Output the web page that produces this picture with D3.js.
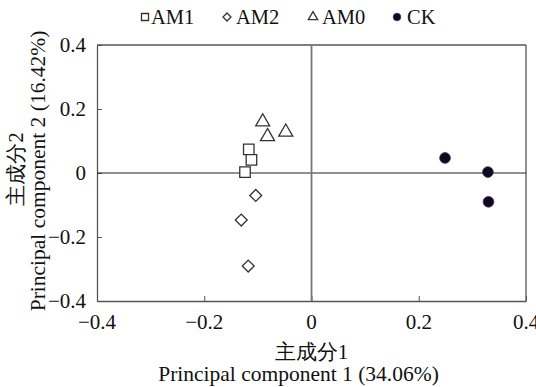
<!DOCTYPE html>
<html><head><meta charset="utf-8">
<script src="https://cdn.jsdelivr.net/npm/d3@7"></script>
<style>body{margin:0;background:#fff}svg{display:block}
text{font-family:'Liberation Serif','Times New Roman',serif;fill:#111}</style>
</head><body>
<svg id="c" width="536" height="387"></svg>
<script>
const xTicks = [-0.4, -0.2, 0, 0.2, 0.4];
const yTicks = [-0.4, -0.2, 0, 0.2, 0.4];
const am1 = [[-0.117, 0.074], [-0.112, 0.041], [-0.124, 0.003]];
const am2 = [[-0.104, -0.070], [-0.131, -0.147], [-0.118, -0.291]];
const am0 = [[-0.091, 0.160], [-0.082, 0.114], [-0.048, 0.128]];
const ck  = [[0.249, 0.047], [0.329, 0.003], [0.330, -0.090]];
const seriesNames = ["AM1", "AM2", "AM0", "CK"];
const xTitle = ["主成分1", "Principal component 1 (34.06%)"];
const yTitle = ["主成分2", "Principal component 2 (16.42%)"];

const svg = d3.select("#c");
const L = 97, R = 526, T = 45, B = 301;
const x = d3.scaleLinear().domain([-0.4, 0.4]).range([L, R]);
const y = d3.scaleLinear().domain([-0.4, 0.4]).range([B, T]);
const fmt = d => d === 0 ? "0" : d3.format(".1f")(d).replace("-", "\u2212");

// axes (lines and ticks)
const xa = svg.append("g").attr("transform", `translate(0,${B})`)
  .call(d3.axisBottom(x).tickValues(xTicks).tickSizeInner(-5).tickSizeOuter(0).tickFormat(""));
const ya = svg.append("g").attr("transform", `translate(${L},0)`)
  .call(d3.axisLeft(y).tickValues(yTicks).tickSizeInner(-5).tickSizeOuter(0).tickFormat(""));
[xa, ya].forEach(a => {
  a.select(".domain").attr("stroke", "#555").attr("stroke-width", 1.3);
  a.selectAll(".tick line").attr("stroke", "#555");
  a.selectAll(".tick text").remove();
});
// tick labels
svg.append("g").selectAll("text").data(xTicks).join("text")
  .attr("x", d => x(d)).attr("y", 329).attr("text-anchor", "middle")
  .attr("font-size", 21).text(fmt);
svg.append("g").selectAll("text").data(yTicks).join("text")
  .attr("x", L - 11).attr("y", d => y(d)).attr("dy", "0.34em").attr("text-anchor", "end")
  .attr("font-size", 21).text(fmt);

// frame top/right
svg.append("line").attr("x1", L).attr("x2", R).attr("y1", T).attr("y2", T).attr("stroke", "#555").attr("stroke-width", 1.3);
svg.append("line").attr("x1", R).attr("x2", R).attr("y1", T).attr("y2", B).attr("stroke", "#555").attr("stroke-width", 1.3);
// zero lines
svg.append("line").attr("x1", L).attr("x2", R).attr("y1", y(0)).attr("y2", y(0)).attr("stroke", "#222").attr("stroke-width", 1.2);
svg.append("line").attr("x1", x(0)).attr("x2", x(0)).attr("y1", T).attr("y2", B).attr("stroke", "#777").attr("stroke-width", 1.8);

const data = {AM1: am1, AM2: am2, AM0: am0, CK: ck};
function drawMarker(g, name, cx, cy, scale) {
  let type = d3.symbolSquare, size = 110, rot = "";
  if (name === "AM2") { size = 70; rot = " rotate(45)"; }
  if (name === "AM0") { type = d3.symbolTriangle; size = 85; }
  if (name === "CK") { type = d3.symbolCircle; size = 90; }
  const p = g.append("path").attr("d", d3.symbol().type(type).size(size * scale)())
    .attr("transform", `translate(${cx},${cy})` + rot);
  if (name === "CK") p.attr("fill", "#0d0a1f").attr("stroke", "#3a2a5a").attr("stroke-width", 0.8);
  else p.attr("fill", "#fff").attr("stroke", "#333").attr("stroke-width", 1.3);
}
seriesNames.forEach(n => {
  data[n].forEach(d => drawMarker(svg, n, x(d[0]), y(d[1]), 1));
});

// legend
const legX = [[145, 151], [227, 236], [313, 322], [397, 407]];
seriesNames.forEach((n, i) => {
  drawMarker(svg, n, legX[i][0], 17, n === "CK" ? 0.5 : 0.45);
  svg.append("text").attr("x", legX[i][1]).attr("y", 24).text(n)
    .attr("font-size", 20.5);
});

// titles
svg.append("text").attr("x", x(0)).attr("y", 359).attr("text-anchor", "middle").text(xTitle[0])
  .attr("font-size", 21);
svg.append("text").attr("x", x(0) - 13).attr("y", 381).attr("text-anchor", "middle").text(xTitle[1])
  .attr("font-size", 21.5);
svg.append("text").attr("transform", `translate(23,${y(0) - 4}) rotate(-90)`).attr("text-anchor", "middle").text(yTitle[0])
  .attr("font-size", 21);
svg.append("text").attr("transform", `translate(45,${y(0) - 2}) rotate(-90)`).attr("text-anchor", "middle").text(yTitle[1])
  .attr("font-size", 21.5);
</script>
</body></html>
